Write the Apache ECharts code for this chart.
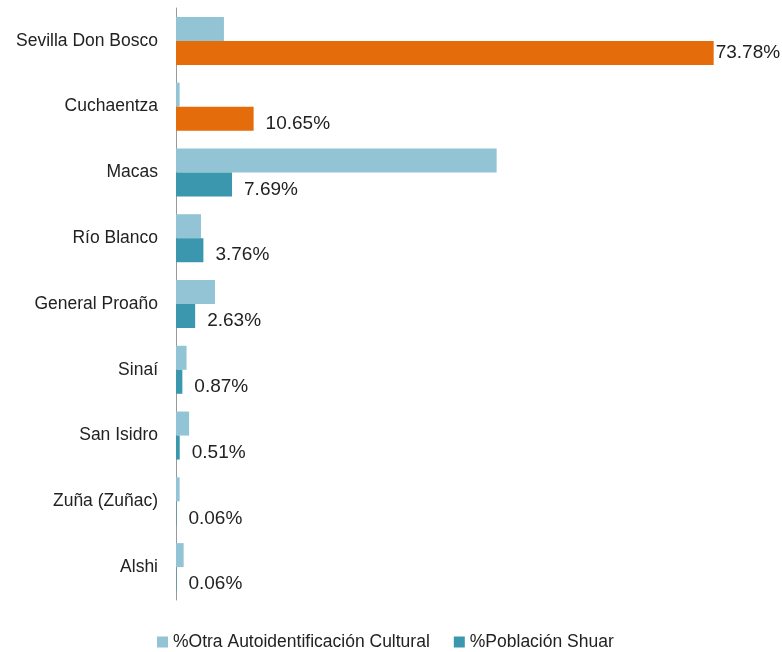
<!DOCTYPE html>
<html>
<head>
<meta charset="utf-8">
<script src="https://cdn.jsdelivr.net/npm/echarts@6/dist/echarts.min.js"></script>
<style>
html, body { margin: 0; padding: 0; background: #fff; }
#chart { width: 782px; height: 652px; }
</style>
</head>
<body>
<div id="chart"></div>
<script>
const categories = ['Sevilla Don Bosco', 'Cuchaentza', 'Macas', 'Río Blanco', 'General Proaño', 'Sinaí', 'San Isidro', 'Zuña (Zuñac)', 'Alshi']
const otraValues = [6.58, 0.5, 44.0, 3.43, 5.35, 1.45, 1.8, 0.5, 1.05]
const shuarValues = [73.78, 10.65, 7.69, 3.76, 2.63, 0.87, 0.51, 0.06, 0.06]

const orange = '#E46C0A'
const teal = '#3A97AD'
const light = '#93C4D5'

var chart = echarts.init(document.getElementById('chart'))

const shuarData = shuarValues.map(function (v, i) {
    const item = { value: v }
    if (i < 2) item.itemStyle = { color: orange }
    if (i === 0) item.label = { distance: 2, offset: [0, 0] }
    return item
})

var option = {
    animation: false,
    textStyle: { fontFamily: 'Liberation Sans, Arial, sans-serif' },
    grid: { left: 176, top: 8, bottom: 52, width: 583 },
    legend: {
        top: 628,
        left: 152,
        itemWidth: 11,
        itemHeight: 11,
        itemGap: 24,
        icon: 'rect',
        textStyle: { fontSize: 17.5, color: '#222' },
        data: ['%Otra Autoidentificación Cultural', '%Población Shuar']
    },
    xAxis: {
        type: 'value',
        min: 0,
        max: 80,
        show: false
    },
    yAxis: {
        type: 'category',
        inverse: true,
        data: categories,
        axisLine: { lineStyle: { color: '#999' } },
        axisTick: { show: false },
        axisLabel: { fontSize: 17.5, color: '#222', margin: 18 }
    },
    series: [{
        name: '%Otra Autoidentificación Cultural',
        type: 'bar',
        data: otraValues,
        itemStyle: { color: light },
        barGap: 0,
        barCategoryGap: '27%'
    }, {
        name: '%Población Shuar',
        type: 'bar',
        data: shuarData,
        itemStyle: { color: teal },
        label: {
            show: true,
            position: 'right',
            distance: 12,
            offset: [0, 5],
            fontSize: 19,
            color: '#222',
            formatter: function (p) { return p.value.toFixed(2) + '%' }
        }
    }]
}

chart.setOption(option)
</script>
</body>
</html>
